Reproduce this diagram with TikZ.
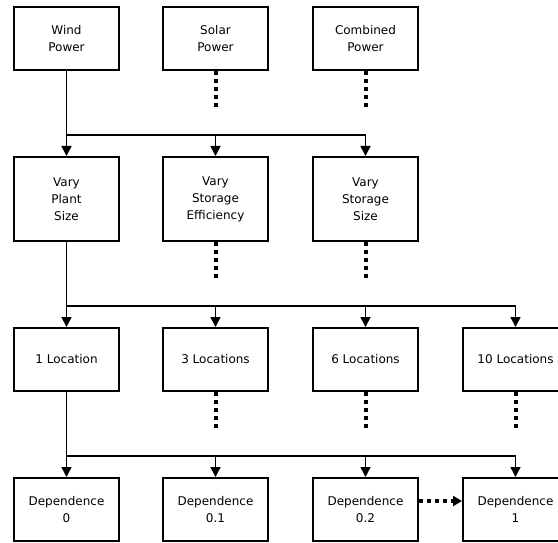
\documentclass[tikz,border=0pt]{standalone}
\usepackage{fontspec}
\setmainfont{DejaVu Sans}
\usetikzlibrary{arrows.meta}
\begin{document}
\begin{tikzpicture}[x=1pt,y=-1pt,
  box/.style={draw,line width=2pt,minimum width=105pt,minimum height=63pt,
    inner sep=0pt,align=center,font=\fontsize{12}{17}\selectfont},
  tallbox/.style={box,minimum height=84pt},
  conn/.style={line width=1.6pt},
  arr/.style={conn,-{Triangle[length=10pt,width=10pt]}},
  dots/.style={line width=4pt,dash pattern=on 4pt off 4pt},
  dotarr/.style={dots,-{Triangle[length=9pt,width=10pt]}}]
\useasboundingbox (0,0) rectangle (558,543);

% row 1: power sources
\node[box] (wind) at (66.5,38.5) {Wind\\Power};
\node[box] (solar) at (215.5,38.5) {Solar\\Power};
\node[box] (comb) at (365.5,38.5) {Combined\\Power};

% row 2: parameters varied
\node[tallbox] (plant) at (66.5,199) {Vary\\Plant\\Size};
\node[tallbox] (eff) at (215.5,199) {Vary\\Storage\\Efficiency};
\node[tallbox] (ssize) at (365.5,199) {Vary\\Storage\\Size};

% row 3: number of locations
\node[box] (loc1) at (66.5,359.5) {1 Location};
\node[box] (loc3) at (215.5,359.5) {3 Locations};
\node[box] (loc6) at (365.5,359.5) {6 Locations};
\node[box] (loc10) at (515.5,359.5) {10 Locations};

% row 4: dependence levels
\node[box] (dep0) at (66.5,509.5) {Dependence\\0};
\node[box] (dep1) at (215.5,509.5) {Dependence\\0.1};
\node[box] (dep2) at (365.5,509.5) {Dependence\\0.2};
\node[box] (dep3) at (515.5,509.5) {Dependence\\1};

% bus lines
\coordinate (ba) at (66.5,135);
\coordinate (bb) at (365.5,135);
\coordinate (ca) at (66.5,306);
\coordinate (cb) at (515.5,306);
\coordinate (da) at (66.5,456);
\coordinate (db) at (515.5,456);

\draw[conn] (wind.south) -- (ba) -- (bb);
\draw[arr] (ba) -- (plant.north);
\draw[arr] (eff.north |- ba) -- (eff.north);
\draw[arr] (bb) -- (ssize.north);

\draw[conn] (plant.south) -- (ca) -- (cb);
\draw[arr] (ca) -- (loc1.north);
\draw[arr] (loc3.north |- ca) -- (loc3.north);
\draw[arr] (loc6.north |- ca) -- (loc6.north);
\draw[arr] (cb) -- (loc10.north);

\draw[conn] (loc1.south) -- (da) -- (db);
\draw[arr] (da) -- (dep0.north);
\draw[arr] (dep1.north |- da) -- (dep1.north);
\draw[arr] (dep2.north |- da) -- (dep2.north);
\draw[arr] (db) -- (dep3.north);

% dotted continuations
\draw[dots] (solar.south) -- ++(0,38);
\draw[dots] (comb.south) -- ++(0,38);
\draw[dots] (eff.south) -- ++(0,36);
\draw[dots] (ssize.south) -- ++(0,36);
\draw[dots] (loc3.south) -- ++(0,38);
\draw[dots] (loc6.south) -- ++(0,38);
\draw[dots] (loc10.south) -- ++(0,38);

\coordinate (dstart) at (dep2.east |- 0,501);
\draw[dotarr] (dstart) -- (dep3.west |- dstart);
\end{tikzpicture}
\end{document}
